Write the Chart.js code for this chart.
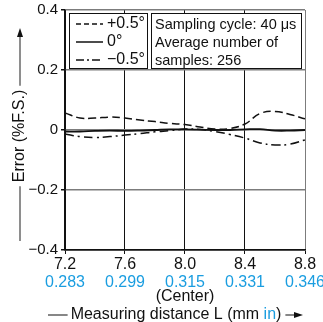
<!DOCTYPE html>
<html>
<head>
<meta charset="utf-8">
<script src="https://cdn.jsdelivr.net/npm/chart.js@4"></script>
<style>
	html, body { margin: 0; padding: 0; background: #fff; }
</style>
</head>
<body>
<canvas id="myChart" width="323" height="322"></canvas>
<script>
// measuring distance (mm) and error (%F.S.)
const distanceMm = [7.2, 7.3, 7.4, 7.5, 7.6, 7.7, 7.8, 7.9, 8.0, 8.1, 8.2, 8.3, 8.4, 8.5, 8.6, 8.7, 8.8];
const errPlus05 = [0.057, 0.040, 0.040, 0.043, 0.040, 0.033, 0.028, 0.022, 0.018, 0.010, 0.003, 0.005, 0.020, 0.055, 0.062, 0.052, 0.037];
const errZero = [-0.005, -0.005, -0.003, -0.002, -0.003, -0.002, 0.000, 0.002, 0.002, 0.001, 0.000, 0.000, 0.002, 0.003, -0.002, -0.002, 0.000];
const errMinus05 = [-0.013, -0.022, -0.025, -0.022, -0.017, -0.012, -0.006, -0.002, 0.003, 0.002, -0.005, -0.015, -0.027, -0.043, -0.050, -0.047, -0.033];
const seriesLabels = ['+0.5°', '0°', '−0.5°'];
const mmTicks = [7.2, 7.6, 8.0, 8.4, 8.8];
const inchTicks = ['0.283', '0.299', '0.315', '0.331', '0.346'];
const errorTicks = [-0.4, -0.2, 0, 0.2, 0.4];
const infoLines = ['Sampling cycle: 40 μs', 'Average number of', 'samples: 256'];

const FONT = "'Liberation Sans', Arial, sans-serif";
const BLUE = '#1a9de0';
const GRAY = '#7c7c7c';
const INK = '#111';
const lineDash = [[8, 4], [], [9, 4, 2, 4]];
const legendDash = [[5, 3], [], [8, 3, 2, 3]];

const toPoints = (ys) => ys.map((y, i) => ({ x: distanceMm[i], y: y }));
const fixedTicks = (list) => (scale) => { scale.ticks = list.map((v) => ({ value: v })); };

const overlay = {
	id: 'overlay',
	afterDraw(chart) {
		const ctx = chart.ctx;
		const sx = chart.scales.x;
		ctx.save();

		// legend box + info box
		ctx.fillStyle = '#fff';
		ctx.strokeStyle = INK;
		ctx.lineWidth = 1;
		ctx.fillRect(69.5, 13.5, 78, 55);
		ctx.strokeRect(69.5, 13.5, 78, 55);
		ctx.fillRect(151.5, 13.5, 150, 55);
		ctx.strokeRect(151.5, 13.5, 150, 55);

		ctx.textBaseline = 'middle';
		ctx.textAlign = 'left';
		ctx.font = '16px ' + FONT;
		chart.data.datasets.forEach((ds, i) => {
			const y = 24 + i * 18;
			ctx.strokeStyle = INK;
			ctx.lineWidth = 1.5;
			ctx.setLineDash(legendDash[i]);
			ctx.beginPath();
			ctx.moveTo(76, y);
			ctx.lineTo(103, y);
			ctx.stroke();
			ctx.setLineDash([]);
			ctx.fillStyle = INK;
			ctx.fillText(ds.label, 107, y);
		});

		ctx.font = '14.5px ' + FONT;
		infoLines.forEach((t, i) => {
			ctx.fillText(t, 155, 25 + i * 18);
		});

		// (Center) under 8.0
		ctx.font = '16px ' + FONT;
		ctx.textAlign = 'center';
		ctx.fillText('(Center)', sx.getPixelForValue(8.0), 297);

		// x title with blue "in"
		const partA = 'Measuring distance L (mm ';
		const partB = 'in';
		const partC = ')';
		const wA = ctx.measureText(partA).width;
		const wB = ctx.measureText(partB).width;
		const wC = ctx.measureText(partC).width;
		const total = wA + wB + wC;
		const tx = 176 - total / 2;
		const ty = 315;
		ctx.textAlign = 'left';
		ctx.fillStyle = INK;
		ctx.fillText(partA, tx, ty);
		ctx.fillStyle = BLUE;
		ctx.fillText(partB, tx + wA, ty);
		ctx.fillStyle = INK;
		ctx.fillText(partC, tx + wA + wB, ty);
		ctx.strokeStyle = INK;
		ctx.lineWidth = 1.2;
		ctx.beginPath();
		ctx.moveTo(48, ty);
		ctx.lineTo(tx - 3, ty);
		ctx.moveTo(tx + total + 4, ty);
		ctx.lineTo(296, ty);
		ctx.stroke();
		ctx.fillStyle = INK;
		ctx.beginPath();
		ctx.moveTo(303, ty);
		ctx.lineTo(294, ty - 3);
		ctx.lineTo(294, ty + 3);
		ctx.closePath();
		ctx.fill();

		// y title, rotated, with arrow
		const cx = 20;
		const cy = 136;
		const yTitle = 'Error (%F.S.)';
		const wy = ctx.measureText(yTitle).width;
		ctx.save();
		ctx.translate(cx, cy);
		ctx.rotate(-Math.PI / 2);
		ctx.textAlign = 'center';
		ctx.fillStyle = INK;
		ctx.fillText(yTitle, 0, 0);
		ctx.restore();
		ctx.strokeStyle = '#444';
		ctx.lineWidth = 1.2;
		ctx.beginPath();
		ctx.moveTo(cx, 36);
		ctx.lineTo(cx, cy - wy / 2 - 4);
		ctx.moveTo(cx, cy + wy / 2 + 4);
		ctx.lineTo(cx, 241);
		ctx.stroke();
		ctx.fillStyle = INK;
		ctx.beginPath();
		ctx.moveTo(cx, 28);
		ctx.lineTo(cx - 3, 37);
		ctx.lineTo(cx + 3, 37);
		ctx.closePath();
		ctx.fill();

		ctx.restore();
	}
};

const datasets = [errPlus05, errZero, errMinus05].map((ys, i) => ({
	label: seriesLabels[i],
	data: toPoints(ys),
	borderColor: INK,
	borderWidth: i === 1 ? 1.8 : 1.5,
	borderDash: lineDash[i],
	pointRadius: 0,
	tension: 0.4,
	fill: false
}));

new Chart(document.getElementById('myChart'), {
	type: 'line',
	data: { datasets: datasets },
	options: {
		responsive: false,
		devicePixelRatio: 1,
		animation: false,
		events: [],
		layout: { padding: { top: 10, right: 18, bottom: 34, left: 0 } },
		plugins: {
			legend: { display: false },
			tooltip: { enabled: false }
		},
		scales: {
			x: {
				type: 'linear',
				position: 'bottom',
				min: 7.2,
				max: 8.8,
				afterBuildTicks: fixedTicks(mmTicks),
				afterFit: (s) => { s.height = 22; s.paddingLeft = 0; s.paddingRight = 0; },
				grid: {
					color: (c) => (c.tick && c.tick.value === 8.8 ? GRAY : INK),
					lineWidth: 1,
					tickLength: 4,
					tickColor: INK
				},
				border: { color: INK, width: 1.5 },
				ticks: {
					padding: 1,
					maxRotation: 0,
					color: INK,
					font: { family: FONT, size: 16 },
					callback: (v) => v.toFixed(1)
				}
			},
			x2: {
				type: 'linear',
				position: 'bottom',
				min: 7.2,
				max: 8.8,
				afterBuildTicks: fixedTicks(mmTicks),
				afterFit: (s) => { s.height = 16; s.paddingLeft = 0; s.paddingRight = 0; },
				grid: { display: false, drawTicks: false },
				border: { display: false },
				ticks: {
					padding: 1,
					maxRotation: 0,
					color: BLUE,
					font: { family: FONT, size: 16 },
					callback: (v, i) => inchTicks[i]
				}
			},
			y: {
				type: 'linear',
				min: -0.4,
				max: 0.4,
				afterBuildTicks: fixedTicks(errorTicks),
				afterFit: (s) => { s.width = 65; s.paddingTop = 0; s.paddingBottom = 0; },
				grid: {
					color: (c) => (c.tick && c.tick.value === -0.4 ? INK : GRAY),
					lineWidth: 1.5,
					tickLength: 4,
					tickColor: INK
				},
				border: { color: INK, width: 1.5 },
				ticks: {
					padding: 3,
					color: INK,
					font: { family: FONT, size: 15 },
					callback: (v) => (v === 0 ? '0' : (v < 0 ? '−' : '') + Math.abs(v).toFixed(1))
				}
			}
		}
	},
	plugins: [overlay]
});
</script>
</body>
</html>
